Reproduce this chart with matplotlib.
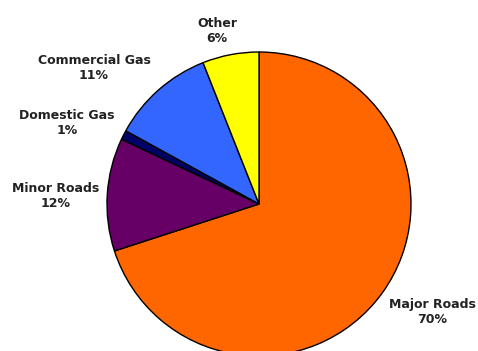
import matplotlib.pyplot as plt

labels = ["Major Roads", "Minor Roads", "Domestic Gas", "Commercial Gas", "Other"]
shares = [70, 12, 1, 11, 6]
colours = ["#FF6600", "#660066", "#000066", "#3366FF", "#FFFF00"]

# where each label sits (pixels from top-left)
label_pos = [(432, 312), (56, 196), (67, 123), (94, 68), (217, 31)]

fig = plt.figure(figsize=(4.78, 3.51), dpi=100)
ax = fig.add_axes([0, 0, 1, 1])
ax.set_xlim(0, 478)
ax.set_ylim(0, 351)
ax.set_aspect("equal")
ax.axis("off")

ax.pie(shares, colors=colours, startangle=90, counterclock=False,
       center=(259, 351 - 204), radius=152,
       wedgeprops=dict(edgecolor="black", linewidth=1))
ax.set_xlim(0, 478)
ax.set_ylim(0, 351)

for lab, val, (x, y) in zip(labels, shares, label_pos):
    ax.text(x, 351 - y, "%s\n%d%%" % (lab, val), ha="center", va="center",
            fontsize=9, fontweight="bold", color="#222222", linespacing=1.2)

plt.savefig("out.png")
